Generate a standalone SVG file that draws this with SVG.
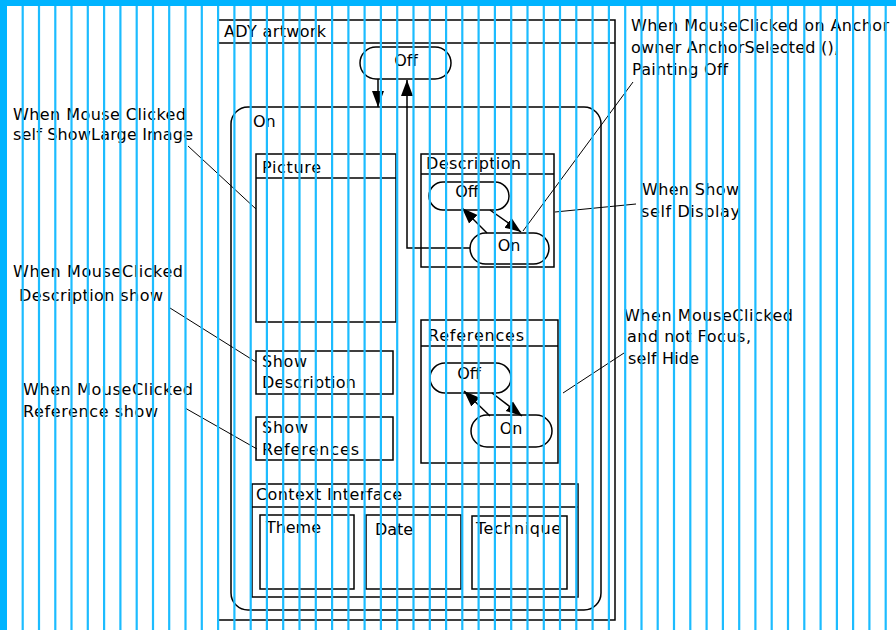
<svg xmlns="http://www.w3.org/2000/svg" width="896" height="630" viewBox="0 0 896 630">
<style>
text{font-family:"DejaVu Sans","Liberation Sans",sans-serif;font-size:16px;fill:#000}
.box{fill:none;stroke:#000;stroke-width:1.5}
.st{fill:#fff;stroke:#000;stroke-width:1.5}
.ln{fill:none;stroke:#000;stroke-width:1.5}
.an{fill:none;stroke:#000;stroke-width:1}
.mid{text-anchor:middle}
.stripe{stroke:#1cbcff;stroke-width:2.2}
</style>
<defs>
<marker id="ah" markerUnits="userSpaceOnUse" markerWidth="18" markerHeight="14" refX="16" refY="7" orient="auto">
<path d="M0,1 L16,7 L0,13 Z" fill="#000"/>
</marker>
</defs>
<rect x="0" y="0" width="896" height="630" fill="#fff"/>

<g id="ady-artwork">
<rect class="box" x="218" y="20" width="397" height="600"/>
<line class="ln" x1="218" y1="43" x2="615" y2="43"/>
<text x="224" y="37" textLength="102" lengthAdjust="spacing">ADY artwork</text>
</g>

<g id="off-top">
<rect class="st" x="360" y="47" width="91" height="32" rx="16"/>
<text class="mid" x="406" y="66">Off</text>
</g>

<g id="on-state">
<rect class="box" x="231" y="107" width="370" height="503" rx="17"/>
<text x="253" y="127">On</text>
</g>

<g id="picture">
<rect class="box" x="256" y="154" width="140" height="168"/>
<line class="ln" x1="256" y1="178" x2="396" y2="178"/>
<text x="262" y="173" textLength="59" lengthAdjust="spacing">Picture</text>
</g>

<g id="description">
<rect class="box" x="421" y="154" width="133" height="113"/>
<line class="ln" x1="421" y1="174" x2="554" y2="174"/>
<text x="426" y="169" textLength="95" lengthAdjust="spacing">Description</text>
</g>
<g id="description-off">
<rect class="st" x="429" y="182" width="80" height="28" rx="14"/>
<text class="mid" x="467" y="197">Off</text>
</g>
<g id="description-on">
<rect class="st" x="470" y="233" width="79" height="31" rx="15.5"/>
<text class="mid" x="509" y="251">On</text>
</g>

<g id="references">
<rect class="box" x="421" y="320" width="137" height="143"/>
<line class="ln" x1="421" y1="346" x2="558" y2="346"/>
<text x="428" y="341" textLength="96" lengthAdjust="spacing">References</text>
</g>
<g id="references-off">
<rect class="st" x="430" y="363" width="81" height="30" rx="15"/>
<text class="mid" x="469" y="379">Off</text>
</g>
<g id="references-on">
<rect class="st" x="471" y="415" width="81" height="32" rx="16"/>
<text class="mid" x="511" y="434">On</text>
</g>

<g id="show-description">
<rect class="box" x="256" y="351" width="137" height="43"/>
<text x="262" y="367" textLength="45" lengthAdjust="spacing">Show</text>
<text x="262" y="388" textLength="94" lengthAdjust="spacing">Description</text>
</g>

<g id="show-references">
<rect class="box" x="256" y="417" width="137" height="43"/>
<text x="262" y="433" textLength="46" lengthAdjust="spacing">Show</text>
<text x="262" y="455" textLength="97" lengthAdjust="spacing">References</text>
</g>

<g id="context-interface">
<rect class="box" x="252" y="484" width="326" height="113"/>
<line class="ln" x1="252" y1="507" x2="578" y2="507"/>
<text x="256" y="500" textLength="146" lengthAdjust="spacing">Context Interface</text>
</g>
<g id="theme">
<rect class="box" x="260" y="515" width="94" height="74"/>
<text x="266" y="533" textLength="55" lengthAdjust="spacing">Theme</text>
</g>
<g id="date">
<rect class="box" x="366" y="515" width="95" height="74"/>
<text x="375" y="535" textLength="38" lengthAdjust="spacing">Date</text>
</g>
<g id="technique">
<rect class="box" x="472" y="516" width="95" height="73"/>
<text x="476" y="534" textLength="85" lengthAdjust="spacing">Technique</text>
</g>

<g id="connectors">
<line class="ln" x1="378" y1="79" x2="378" y2="107" marker-end="url(#ah)"/>
<polyline class="ln" points="470,248 407,248 407,80" marker-end="url(#ah)"/>
<line class="ln" x1="487" y1="233" x2="462" y2="208" marker-end="url(#ah)"/>
<line class="ln" x1="490" y1="210" x2="521" y2="232" marker-end="url(#ah)"/>
<line class="ln" x1="490" y1="416" x2="464" y2="391" marker-end="url(#ah)"/>
<line class="ln" x1="492" y1="393" x2="522" y2="416" marker-end="url(#ah)"/>
<line class="an" x1="188" y1="146" x2="256" y2="209"/>
<line class="an" x1="170" y1="308" x2="256" y2="362"/>
<line class="an" x1="185" y1="408" x2="257" y2="449"/>
<line class="an" x1="633" y1="82" x2="523" y2="231"/>
<line class="an" x1="555" y1="212" x2="636" y2="204"/>
<line class="an" x1="563" y1="393" x2="624" y2="353"/>
</g>

<g id="annotations">
<text x="13" y="120" textLength="173" lengthAdjust="spacing">When Mouse Clicked</text>
<text x="13" y="140" textLength="180" lengthAdjust="spacing">self ShowLarge Image</text>
<text x="13" y="277" textLength="170" lengthAdjust="spacing">When MouseClicked</text>
<text x="19" y="301" textLength="144" lengthAdjust="spacing">Description show</text>
<text x="23" y="395" textLength="170" lengthAdjust="spacing">When MouseClicked</text>
<text x="23" y="417" textLength="135" lengthAdjust="spacing">Reference show</text>
<text x="631" y="31" textLength="258" lengthAdjust="spacing">When MouseClicked on Anchor</text>
<text x="631" y="53" textLength="208" lengthAdjust="spacing">owner AnchorSelected (),</text>
<text x="632" y="75" textLength="96" lengthAdjust="spacing">Painting Off</text>
<text x="642" y="195" textLength="97" lengthAdjust="spacing">When Show</text>
<text x="641" y="217" textLength="99" lengthAdjust="spacing">self Display</text>
<text x="624" y="321" textLength="169" lengthAdjust="spacing">When MouseClicked</text>
<text x="627" y="342" textLength="124" lengthAdjust="spacing">and not Focus,</text>
<text x="628" y="364" textLength="71" lengthAdjust="spacing">self Hide</text>
</g>

<g id="stripes" class="stripe">
<line x1="22.7" y1="0" x2="22.7" y2="630"/><line x1="39" y1="0" x2="39" y2="630"/><line x1="55.3" y1="0" x2="55.3" y2="630"/><line x1="71.5" y1="0" x2="71.5" y2="630"/><line x1="87.8" y1="0" x2="87.8" y2="630"/><line x1="104.1" y1="0" x2="104.1" y2="630"/><line x1="120.4" y1="0" x2="120.4" y2="630"/><line x1="136.7" y1="0" x2="136.7" y2="630"/><line x1="153" y1="0" x2="153" y2="630"/><line x1="169.2" y1="0" x2="169.2" y2="630"/><line x1="185.5" y1="0" x2="185.5" y2="630"/><line x1="201.8" y1="0" x2="201.8" y2="630"/><line x1="218.1" y1="0" x2="218.1" y2="630"/><line x1="234.4" y1="0" x2="234.4" y2="630"/><line x1="250.7" y1="0" x2="250.7" y2="630"/><line x1="266.9" y1="0" x2="266.9" y2="630"/><line x1="283.2" y1="0" x2="283.2" y2="630"/><line x1="299.5" y1="0" x2="299.5" y2="630"/><line x1="315.8" y1="0" x2="315.8" y2="630"/><line x1="332.1" y1="0" x2="332.1" y2="630"/><line x1="348.4" y1="0" x2="348.4" y2="630"/><line x1="364.6" y1="0" x2="364.6" y2="630"/><line x1="380.9" y1="0" x2="380.9" y2="630"/><line x1="397.2" y1="0" x2="397.2" y2="630"/><line x1="413.5" y1="0" x2="413.5" y2="630"/><line x1="429.8" y1="0" x2="429.8" y2="630"/><line x1="446.1" y1="0" x2="446.1" y2="630"/><line x1="462.3" y1="0" x2="462.3" y2="630"/><line x1="478.6" y1="0" x2="478.6" y2="630"/><line x1="494.9" y1="0" x2="494.9" y2="630"/><line x1="511.2" y1="0" x2="511.2" y2="630"/><line x1="527.5" y1="0" x2="527.5" y2="630"/><line x1="543.8" y1="0" x2="543.8" y2="630"/><line x1="560" y1="0" x2="560" y2="630"/><line x1="576.3" y1="0" x2="576.3" y2="630"/><line x1="592.6" y1="0" x2="592.6" y2="630"/><line x1="608.9" y1="0" x2="608.9" y2="630"/><line x1="625.2" y1="0" x2="625.2" y2="630"/><line x1="641.5" y1="0" x2="641.5" y2="630"/><line x1="657.7" y1="0" x2="657.7" y2="630"/><line x1="674" y1="0" x2="674" y2="630"/><line x1="690.3" y1="0" x2="690.3" y2="630"/><line x1="706.6" y1="0" x2="706.6" y2="630"/><line x1="722.9" y1="0" x2="722.9" y2="630"/><line x1="739.2" y1="0" x2="739.2" y2="630"/><line x1="755.4" y1="0" x2="755.4" y2="630"/><line x1="771.7" y1="0" x2="771.7" y2="630"/><line x1="788" y1="0" x2="788" y2="630"/><line x1="804.3" y1="0" x2="804.3" y2="630"/><line x1="820.6" y1="0" x2="820.6" y2="630"/><line x1="836.9" y1="0" x2="836.9" y2="630"/><line x1="853.1" y1="0" x2="853.1" y2="630"/><line x1="869.4" y1="0" x2="869.4" y2="630"/><line x1="885.7" y1="0" x2="885.7" y2="630"/>
</g>
<g id="border" fill="#00b4ff">
<rect x="0" y="0" width="7" height="630"/>
<rect x="0" y="0" width="896" height="6"/>
</g>
</svg>
